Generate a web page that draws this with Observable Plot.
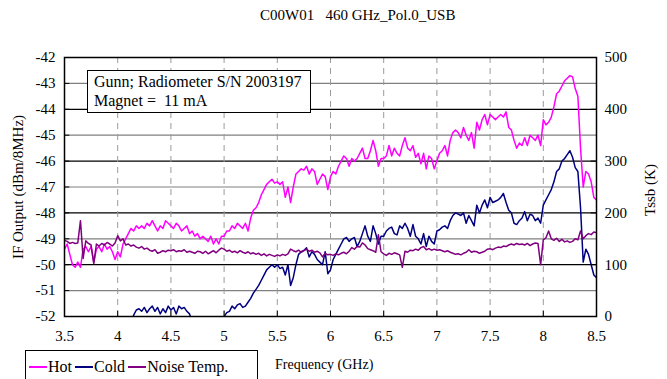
<!DOCTYPE html>
<html>
<head>
<meta charset="utf-8">
<script src="https://cdn.jsdelivr.net/npm/d3@7"></script>
<script src="https://cdn.jsdelivr.net/npm/@observablehq/plot@0.6"></script>
<style>
  html, body { margin: 0; padding: 0; background: #fff; }
  #wrap { position: relative; width: 667px; height: 379px; overflow: hidden; font-family: "Liberation Serif", "Tinos", "Times New Roman", "DejaVu Serif", serif; color: #000; }
  #chart { position: absolute; left: 0; top: 0; }
  #chart svg, #chart svg text { font-family: "Liberation Serif", "Tinos", "Times New Roman", serif !important; }
  #chart svg text { font-size: 15px; }
  .abs { position: absolute; white-space: pre; }
  #title { left: 260px; width: 184px; top: 7px; text-align: center; font-size: 15px; }
  #note { left: 87px; top: 70px; width: 216px; height: 40px; border: 1px solid #000; background: #fff; font-size: 16px; line-height: 19px; padding: 1px 0 0 6px; box-sizing: content-box; }
  #ylab { left: 18px; top: 187px; font-size: 15px; transform: translate(-50%, -50%) rotate(-90deg); }
  #y2lab { left: 650px; top: 190px; font-size: 15px; transform: translate(-50%, -50%) rotate(-90deg); }
  #xlab { left: 275px; top: 357px; font-size: 14px; }
  #legend { left: 25px; top: 350px; width: 233px; height: 34px; border: 1px solid #000; display: flex; align-items: center; font-size: 16px; padding-left: 3px; box-sizing: border-box; }
  #legend .it { display: flex; align-items: center; margin-right: 3px; }
  #legend .sw { width: 18px; height: 0; border-top: 2px solid; margin-right: 1px; }
</style>
</head>
<body>
<div id="wrap">
  <div id="chart"></div>
  <div class="abs" id="title">C00W01   460 GHz_Pol.0_USB</div>
  <div class="abs" id="note">Gunn; Radiometer S/N 2003197
Magnet =  11 mA</div>
  <div class="abs" id="ylab">IF Output (dBm/8MHz)</div>
  <div class="abs" id="y2lab">Tssb (K)</div>
  <div class="abs" id="xlab">Frequency (GHz)</div>
  <div class="abs" id="legend"></div>
</div>
<script>
// Frequency sampling (GHz), 3.5 .. 8.5 in 0.025 steps (201 points)
const freq = d3.range(201).map(i => +(3.5 + i * 0.025).toFixed(3));

// Hot load IF output (dBm/8MHz), rows of 0.5 GHz
const hot = [
  [-49.4,-49.2,-49.6,-50.0,-50.1,-49.9,-50.1,-49.4,-49.3,-49.5,-49.3,-49.9,-49.4,-49.3,-49.5,-49.2,-49.4,-49.3,-49.5,-49.8],
  [-49.5,-49.7,-49.2,-49.0,-48.8,-48.6,-48.7,-48.5,-48.6,-48.5,-48.6,-48.4,-48.5,-48.3,-48.5,-48.7,-48.5,-48.6,-48.3,-48.4],
  [-48.5,-48.6,-48.4,-48.5,-48.7,-48.6,-48.5,-48.8,-48.7,-48.9,-48.8,-49.0,-48.9,-49.0,-49.1,-48.9,-49.2,-49.0,-49.2,-48.9],
  [-48.9,-48.7,-48.7,-48.5,-48.6,-48.4,-48.5,-48.6,-48.4,-48.7,-48.2,-47.9,-47.8,-47.6,-47.3,-47.1,-46.9,-46.8,-46.7,-46.85],
  [-46.8,-46.9,-46.8,-47.4,-47.0,-47.6,-47.0,-46.5,-46.4,-46.3,-46.35,-46.2,-46.5,-46.3,-46.4,-46.9,-46.7,-46.5,-46.6,-47.1],
  [-46.6,-46.4,-46.5,-46.2,-46.0,-45.8,-45.9,-46.2,-45.9,-46.0,-45.9,-45.7,-45.5,-45.9,-45.9,-45.6,-45.2,-45.6,-46.2,-45.9],
  [-45.9,-45.8,-45.4,-45.8,-45.5,-45.7,-45.8,-45.4,-45.1,-45.5,-45.6,-45.4,-45.85,-45.7,-46.1,-45.7,-46.3,-45.8,-45.9,-46.3],
  [-46.0,-45.7,-45.6,-45.4,-45.8,-45.2,-44.9,-44.8,-44.9,-45.1,-44.7,-45.0,-45.2,-44.9,-45.5,-44.5,-44.8,-44.4,-44.2,-44.6],
  [-44.2,-44.3,-44.4,-44.3,-44.2,-44.3,-44.1,-44.7,-44.8,-45.2,-45.5,-45.3,-45.4,-45.1,-45.4,-45.0,-45.1,-45.2,-45.0,-45.4],
  [-44.4,-44.6,-44.5,-44.3,-43.9,-43.4,-43.3,-43.1,-42.9,-42.8,-42.7,-42.75,-43.2,-43.5,-45.5,-47.0,-46.4,-46.5,-46.8,-47.4],
  [-47.5]
].flat();

// Cold load IF output (dBm/8MHz); values below -52 fall off the bottom of the frame
const cold = [
  [-52.5,-52.5,-52.5,-52.5,-52.5,-52.5,-52.5,-52.5,-52.5,-52.5,-52.5,-52.5,-52.5,-52.5,-52.5,-52.5,-52.5,-52.5,-52.5,-52.5],
  [-52.5,-52.5,-52.5,-52.5,-52.4,-52.2,-51.95,-51.75,-51.7,-51.8,-51.65,-51.85,-51.7,-51.6,-51.8,-51.65,-51.9,-51.7,-51.85,-51.6],
  [-51.75,-51.65,-51.9,-51.6,-51.7,-51.65,-51.8,-51.9,-52.2,-52.5,-52.5,-52.5,-52.5,-52.5,-52.5,-52.5,-52.5,-52.5,-52.5,-52.5],
  [-52.0,-51.85,-51.8,-51.6,-51.7,-51.55,-51.5,-51.65,-51.6,-51.45,-51.3,-51.1,-50.95,-50.8,-50.6,-50.4,-50.2,-50.1,-50.0,-50.1],
  [-50.0,-50.15,-50.1,-50.4,-50.0,-50.8,-50.5,-50.0,-49.6,-49.5,-49.45,-49.35,-49.7,-49.5,-49.6,-49.8,-49.9,-50.0,-49.5,-50.35],
  [-50.2,-49.8,-49.6,-49.4,-49.2,-49.0,-48.95,-49.1,-49.0,-48.95,-49.3,-49.1,-48.8,-48.5,-48.9,-49.1,-48.5,-48.8,-49.2,-48.9],
  [-48.9,-48.7,-48.6,-48.55,-48.8,-48.85,-48.5,-48.6,-48.4,-48.6,-48.9,-48.45,-48.9,-49.0,-49.2,-48.8,-49.3,-48.9,-49.1,-49.2],
  [-48.7,-48.65,-48.55,-48.5,-48.6,-48.3,-48.1,-48.0,-48.05,-48.1,-48.0,-48.4,-48.1,-48.3,-48.5,-47.7,-48.0,-47.7,-47.5,-47.8],
  [-47.4,-47.6,-47.55,-47.5,-47.4,-47.25,-47.6,-47.9,-48.0,-48.4,-48.45,-48.3,-48.2,-47.95,-48.3,-48.05,-48.1,-48.3,-48.2,-48.4],
  [-47.7,-47.5,-47.3,-47.1,-46.8,-46.4,-46.3,-46.0,-45.9,-45.75,-45.6,-45.85,-46.25,-46.4,-47.8,-49.9,-49.4,-49.6,-50.0,-50.4],
  [-50.5]
].flat();

// Noise temperature Tssb (K), right axis
const noiseK = [
  [147,145,141,143,141,142,185,112,146,141,138,102,140,136,141,138,143,140,136,142],
  [156,146,150,138,140,136,138,134,132,135,130,132,128,126,129,122,124,127,125,128],
  [127,129,125,127,126,129,124,126,124,122,126,125,122,126,121,124,127,123,128,132],
  [130,126,128,124,126,123,127,124,122,125,121,123,120,122,118,121,117,120,118,116],
  [119,117,120,118,121,130,127,125,128,124,127,130,126,128,124,126,123,115,122,119],
  [120,118,121,119,122,124,121,126,133,130,135,134,142,138,131,129,127,124,158,125],
  [121,118,122,120,123,121,119,95,126,124,128,127,130,128,133,135,129,131,128,130],
  [128,129,127,125,127,124,122,120,121,119,122,124,129,124,126,125,122,124,126,130],
  [131,129,132,134,133,136,135,138,140,138,141,139,140,138,141,137,140,142,141,100],
  [148,152,165,150,147,151,145,149,144,146,143,145,150,148,165,150,156,160,158,163],
  [162]
].flat();

// Axis ticks
const xTicks = [3.5, 4, 4.5, 5, 5.5, 6, 6.5, 7, 7.5, 8, 8.5];
const yTicks = [-52, -51, -50, -49, -48, -47, -46, -45, -44, -43, -42];
const kTicks = [0, 100, 200, 300, 400, 500];

// Series names and colours
const seriesNames = ["Hot", "Cold", "Noise Temp."];
const seriesColors = ["#ff00ff", "#000080", "#800080"];

// Right axis (K) mapped onto the left axis (dBm): 500 K spans 10 dB
const kToY = k => k / 50 - 52;
const yToK = y => Math.round((y + 52) * 50);

const rows = freq.map((f, i) => ({ f, hot: hot[i], cold: cold[i], noise: kToY(noiseK[i]) }));

const chart = Plot.plot({
  width: 667,
  height: 379,
  marginTop: 57,
  marginBottom: 63,
  marginLeft: 64,
  marginRight: 71,
  style: { fontFamily: "'Liberation Serif', Tinos, 'Times New Roman', serif", fontSize: "15px", background: "transparent", color: "#000" },
  x: { domain: [3.5, 8.5] },
  y: { domain: [-52, -42] },
  marks: [
    Plot.ruleY(yTicks.slice(1, -1), { stroke: d => (d % 2 === 0 ? "#000" : "#808080"), strokeWidth: 1.2 }),
    Plot.ruleX(xTicks.slice(1, -1), { stroke: "#9a9a9a", strokeDasharray: "6,5", strokeWidth: 1 }),
    Plot.line(rows, { x: "f", y: "hot", stroke: seriesColors[0], strokeWidth: 1.5, clip: true }),
    Plot.line(rows, { x: "f", y: "cold", stroke: seriesColors[1], strokeWidth: 1.5, clip: true }),
    Plot.line(rows, { x: "f", y: "noise", stroke: seriesColors[2], strokeWidth: 1.5, clip: true }),
    Plot.ruleX(xTicks, { y1: -52, y2: -51.8, stroke: "#000" }),
    Plot.ruleY(yTicks, { x1: 3.5, x2: 3.55, stroke: "#000" }),
    Plot.ruleY(kTicks.map(kToY), { x1: 8.45, x2: 8.5, stroke: "#000" }),
    Plot.frame({ stroke: "#000", strokeWidth: 1.5 }),
    Plot.axisX({ ticks: xTicks, tickSize: 0, tickPadding: 14, tickFormat: d => String(d), label: null }),
    Plot.axisY({ ticks: yTicks, tickSize: 0, tickPadding: 9, tickFormat: d => String(d), label: null }),
    Plot.axisY({ anchor: "right", ticks: kTicks.map(kToY), tickSize: 0, tickPadding: 8, tickFormat: d => String(yToK(d)), label: null })
  ]
});
document.getElementById("chart").appendChild(chart);

const legend = document.getElementById("legend");
seriesNames.forEach((name, i) => {
  const it = document.createElement("div");
  it.className = "it";
  const sw = document.createElement("span");
  sw.className = "sw";
  sw.style.borderColor = seriesColors[i];
  const tx = document.createElement("span");
  tx.textContent = name;
  it.appendChild(sw);
  it.appendChild(tx);
  legend.appendChild(it);
});
</script>
</body>
</html>
